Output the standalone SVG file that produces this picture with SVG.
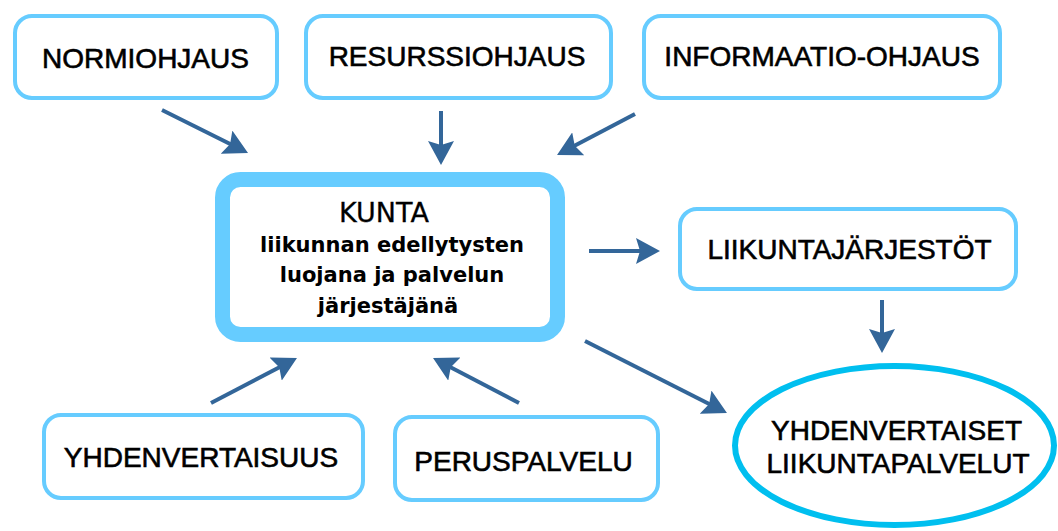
<svg xmlns="http://www.w3.org/2000/svg" width="1058" height="531" viewBox="0 0 1058 531">
<style>
.box{fill:#fff;stroke:#66CCFF;stroke-width:4}
.lbl{font-family:"Liberation Sans",Arial,sans-serif;font-size:28px;fill:#000;stroke:#000;stroke-width:0.6;text-anchor:middle}
.k1{font-family:"DejaVu Sans",Verdana,sans-serif;font-size:27px;fill:#000;stroke:#000;stroke-width:0.3;text-anchor:middle}
.k2{font-family:"DejaVu Sans",Verdana,sans-serif;font-weight:bold;font-size:21px;fill:#000;text-anchor:middle}
.arr{stroke:#336699;stroke-width:4;fill:none;marker-end:url(#ah)}
</style>
<defs>
<marker id="ah" markerUnits="userSpaceOnUse" viewBox="0 0 24 26" refX="8" refY="13" markerWidth="24" markerHeight="26" orient="auto">
<path d="M0,0 L24,13 L0,26 L4,13 z" fill="#336699"/>
</marker>
</defs>
<rect width="1058" height="531" fill="#fff"/>
<g id="connectors">
<line class="arr" x1="162" y1="110" x2="233.7" y2="145.8"/>
<line class="arr" x1="441" y1="111" x2="441" y2="149"/>
<line class="arr" x1="635" y1="114" x2="571.2" y2="147.6"/>
<line class="arr" x1="211" y1="403" x2="282.8" y2="365.4"/>
<line class="arr" x1="519" y1="403" x2="447.2" y2="365.4"/>
<line class="arr" x1="585" y1="341" x2="712.7" y2="405.8"/>
<line class="arr" x1="589" y1="251" x2="644" y2="251"/>
<line class="arr" x1="882" y1="300" x2="882" y2="337"/>
</g>
<g id="normiohjaus">
<rect class="box" x="15" y="16" width="262" height="82" rx="17"/>
<text class="lbl" x="145.5" y="68">NORMIOHJAUS</text>
</g>
<g id="resurssiohjaus">
<rect class="box" x="306" y="16" width="305" height="82" rx="17"/>
<text class="lbl" x="457" y="66">RESURSSIOHJAUS</text>
</g>
<g id="informaatio-ohjaus">
<rect class="box" x="644" y="16" width="356" height="82" rx="17"/>
<text class="lbl" x="822" y="66">INFORMAATIO-OHJAUS</text>
</g>
<g id="kunta">
<rect x="222.5" y="179.5" width="335" height="155" rx="18" fill="#fff" stroke="#66CCFF" stroke-width="15"/>
<text class="k1" x="384" y="222">KUNTA</text>
<text class="k2" x="392" y="252">liikunnan edellytysten</text>
<text class="k2" x="392" y="282">luojana ja palvelun</text>
<text class="k2" x="388" y="313">järjestäjänä</text>
</g>
<g id="liikuntajarjestot">
<rect class="box" x="680" y="209" width="336" height="80" rx="17"/>
<text class="lbl" x="849.5" y="259">LIIKUNTAJÄRJESTÖT</text>
</g>
<g id="yhdenvertaisuus">
<rect class="box" x="44" y="415" width="319" height="83" rx="17"/>
<text class="lbl" x="201" y="467">YHDENVERTAISUUS</text>
</g>
<g id="peruspalvelu">
<rect class="box" x="395" y="417" width="263" height="83" rx="17"/>
<text class="lbl" x="523.5" y="471">PERUSPALVELU</text>
</g>
<g id="yhdenvertaiset-liikuntapalvelut">
<ellipse cx="894.5" cy="445.5" rx="159.5" ry="79.5" fill="#fff" stroke="#00BFEF" stroke-width="6"/>
<text class="lbl" x="896.5" y="440">YHDENVERTAISET</text>
<text class="lbl" x="898" y="473">LIIKUNTAPALVELUT</text>
</g>
</svg>
